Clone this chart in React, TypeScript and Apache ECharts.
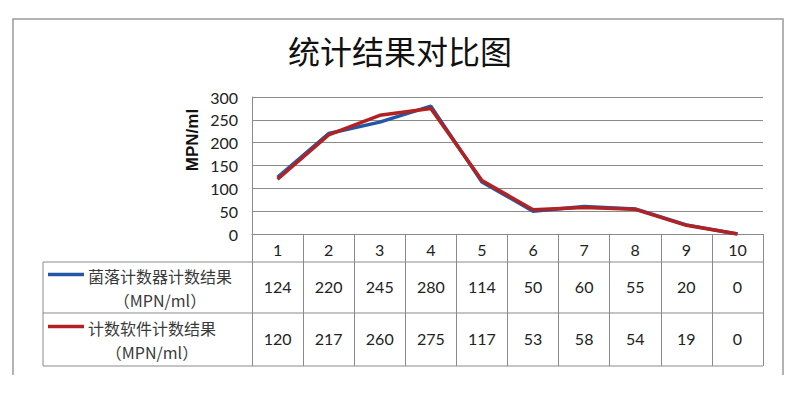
import React, { useEffect, useRef } from "react";
import * as echarts from "echarts";

const title = "统计结果对比图";
const categories = ["1", "2", "3", "4", "5", "6", "7", "8", "9", "10"];
const seriesNames = ["菌落计数器计数结果", "计数软件计数结果"];
const unitLabel = "（MPN/ml）";
const counterValues = [124, 220, 245, 280, 114, 50, 60, 55, 20, 0];
const softwareValues = [120, 217, 260, 275, 117, 53, 58, 54, 19, 0];
const yTicks = { min: 0, max: 300, interval: 50 };
const colors = ["#2456A6", "#B22222"];

const NUM_FONT = "Lato, 'Open Sans', sans-serif";
const CJK_FONT = "'Noto Sans CJK SC', sans-serif";

export default function App() {
  const ref = useRef<HTMLDivElement>(null);
  useEffect(() => {
    if (!ref.current) return;
    const chart = echarts.init(ref.current, undefined, { renderer: "svg" });
    const gridLeft = 252;
    const gridRight = 763;
    const gridTop = 97;
    const gridBottom = 234;
    const rowY = [234, 262, 313, 366];
    const tableLeft = 43;
    const lineColor = "#8a8a8a";
    const legendFont = 16;

    const option: any = {
      animation: false,
      backgroundColor: "#fff",
      title: {
        text: title,
        left: "center",
        top: 29,
        textStyle: { fontFamily: CJK_FONT, fontSize: 32, fontWeight: "normal", color: "#111" },
      },
      grid: {
        left: gridLeft,
        top: gridTop,
        width: gridRight - gridLeft,
        height: gridBottom - gridTop,
        containLabel: false,
      },
      xAxis: [
        {
          type: "category",
          data: categories,
          boundaryGap: true,
          axisLine: { show: true, lineStyle: { color: lineColor, width: 1 } },
          axisTick: {
            show: true,
            interval: 0,
            length: rowY[3] - rowY[0],
            lineStyle: { color: lineColor, width: 1 },
          },
          axisLabel: {
            interval: 0,
            margin: 7,
            fontFamily: NUM_FONT,
            fontSize: 16,
            color: "#222",
          },
          splitLine: { show: false },
        },
        {
          type: "category",
          data: counterValues.map(String),
          position: "bottom",
          offset: 0,
          axisLine: { show: false },
          axisTick: { show: false },
          axisLabel: {
            interval: 0,
            margin: (rowY[1] + rowY[2]) / 2 - rowY[0] - 9,
            fontFamily: NUM_FONT,
            fontSize: 16,
            color: "#222",
          },
        },
        {
          type: "category",
          data: softwareValues.map(String),
          position: "bottom",
          offset: 0,
          axisLine: { show: false },
          axisTick: { show: false },
          axisLabel: {
            interval: 0,
            margin: (rowY[2] + rowY[3]) / 2 - rowY[0] - 9,
            fontFamily: NUM_FONT,
            fontSize: 16,
            color: "#222",
          },
        },
      ],
      yAxis: {
        type: "value",
        min: yTicks.min,
        max: yTicks.max,
        interval: yTicks.interval,
        axisLine: { show: true, lineStyle: { color: lineColor, width: 1 } },
        axisTick: { show: false },
        axisLabel: { margin: 14, fontFamily: NUM_FONT, fontSize: 16, color: "#222" },
        splitLine: { show: true, lineStyle: { color: lineColor, width: 1 } },
      },
      series: [
        {
          name: seriesNames[0] + unitLabel,
          type: "line",
          data: counterValues,
          symbol: "none",
          lineStyle: { color: colors[0], width: 3.5 },
          itemStyle: { color: colors[0] },
        },
        {
          name: seriesNames[1] + unitLabel,
          type: "line",
          data: softwareValues,
          symbol: "none",
          lineStyle: { color: colors[1], width: 3.5 },
          itemStyle: { color: colors[1] },
        },
      ],
      graphic: [
        {
          type: "polyline",
          shape: { points: [[13, 375], [13, 19], [783, 19], [783, 375]] },
          style: { stroke: "#9a9a9a", fill: null, lineWidth: 1.5 },
          silent: true,
        },
        {
          type: "text",
          x: 192,
          y: 140,
          rotation: Math.PI / 2,
          style: {
            text: "MPN/ml",
            fontFamily: "'Liberation Sans', Arial, sans-serif",
            fontWeight: "bold",
            fontSize: 17,
            fill: "#111",
            align: "center",
            verticalAlign: "middle",
          },
        },
        ...[rowY[1], rowY[2], rowY[3]].map((y) => ({
          type: "line",
          shape: { x1: tableLeft, y1: y, x2: gridRight, y2: y },
          style: { stroke: lineColor, lineWidth: 1 },
          silent: true,
        })),
        {
          type: "line",
          shape: { x1: tableLeft, y1: rowY[1], x2: tableLeft, y2: rowY[3] },
          style: { stroke: lineColor, lineWidth: 1 },
          silent: true,
        },
        ...[0, 1].map((i) => {
          const top = rowY[i + 1];
          const bottom = rowY[i + 2];
          const mid = (top + bottom) / 2;
          const textCenter = 88 + (seriesNames[i].length * legendFont) / 2;
          return {
            type: "group",
            children: [
              {
                type: "line",
                shape: { x1: 48, y1: mid - 13, x2: 84, y2: mid - 13 },
                style: { stroke: colors[i], lineWidth: 3.5 },
              },
              {
                type: "text",
                x: textCenter,
                y: mid,
                style: {
                  text: seriesNames[i] + "\n" + unitLabel,
                  fontFamily: CJK_FONT,
                  fontSize: legendFont,
                  lineHeight: 24,
                  fill: "#3a3a3a",
                  align: "center",
                  verticalAlign: "middle",
                },
              },
            ],
          };
        }),
      ],
    };
    chart.setOption(option);
    return () => chart.dispose();
  }, []);
  return <div ref={ref} style={{ width: 800, height: 396, margin: -8 }} />;
}
